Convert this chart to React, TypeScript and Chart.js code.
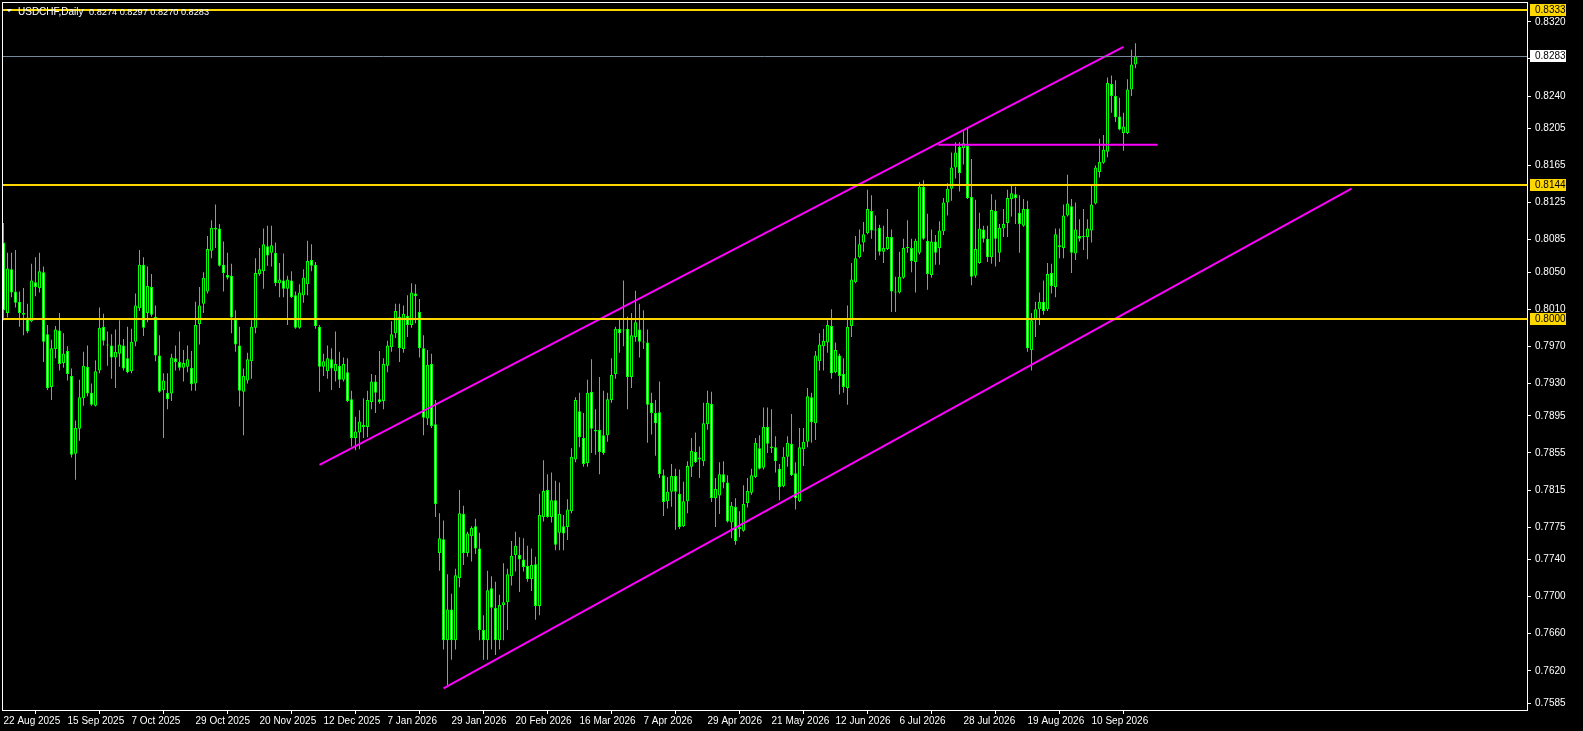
import React, { useEffect, useRef } from 'react';
import { Chart, registerables } from 'chart.js';

Chart.register(...registerables);

const opens = [
  0.8082, 0.8006, 0.8053, 0.8029, 0.8018, 0.8006, 0.8001, 0.7997, 0.8039, 0.8033,
  0.8050, 0.7983, 0.7926, 0.7967, 0.7987, 0.7952, 0.7965, 0.7938, 0.7854, 0.7881,
  0.7914, 0.7948, 0.7920, 0.7906, 0.7944, 0.7991, 0.7972, 0.7971, 0.7958, 0.7962,
  0.7971, 0.7957, 0.7943, 0.7975, 0.8011, 0.8058, 0.8006, 0.8034, 0.8002, 0.7960,
  0.7923, 0.7920, 0.7919, 0.7957, 0.7953, 0.7947, 0.7948, 0.7947, 0.7930, 0.7994,
  0.8016, 0.8029, 0.8073, 0.8098, 0.8097, 0.8058, 0.8047, 0.8046, 0.7999, 0.7971,
  0.7921, 0.7933, 0.7954, 0.7990, 0.8048, 0.8051, 0.8078, 0.8071, 0.8071, 0.8038,
  0.8041, 0.8032, 0.8041, 0.8025, 0.7990, 0.8025, 0.8037, 0.8063, 0.8058, 0.7991,
  0.7948, 0.7943, 0.7956, 0.7943, 0.7949, 0.7934, 0.7942, 0.7913, 0.7871, 0.7877,
  0.7885, 0.7883, 0.7910, 0.7932, 0.7913, 0.7911, 0.7949, 0.7969, 0.7984, 0.8002,
  0.7967, 0.8003, 0.7993, 0.8027, 0.8007, 0.7968, 0.7892, 0.7951, 0.7886, 0.7747,
  0.7762, 0.7653, 0.7686, 0.7653, 0.7720, 0.7789, 0.7747, 0.7765, 0.7776, 0.7752,
  0.7664, 0.7653, 0.7709, 0.7688, 0.7653, 0.7691, 0.7694, 0.7722, 0.7745, 0.7745,
  0.7740, 0.7733, 0.7719, 0.7735, 0.7690, 0.7786, 0.7815, 0.7786, 0.7804, 0.7769,
  0.7776, 0.7775, 0.7792, 0.7848, 0.7900, 0.7871, 0.7844, 0.7921, 0.7880, 0.7880,
  0.7874, 0.7874, 0.7912, 0.7940, 0.7989, 0.7987, 0.7989, 0.7937, 0.7980, 0.7988,
  0.7975, 0.7974, 0.7909, 0.7898, 0.7899, 0.7831, 0.7803, 0.7813, 0.7830, 0.7811,
  0.7776, 0.7803, 0.7840, 0.7856, 0.7848, 0.7846, 0.7886, 0.7908, 0.7806, 0.7809,
  0.7832, 0.7823, 0.7780, 0.7797, 0.7773, 0.7771, 0.7801, 0.7812, 0.7829, 0.7860,
  0.7839, 0.7883, 0.7862, 0.7861, 0.7838, 0.7819, 0.7851, 0.7865, 0.7833, 0.7803,
  0.7859, 0.7867, 0.7915, 0.7887, 0.7954, 0.7970, 0.7974, 0.7992, 0.7942, 0.7960,
  0.7940, 0.7925, 0.7992, 0.8039, 0.8066, 0.8082, 0.8092, 0.8116, 0.8095, 0.8098,
  0.8072, 0.8075, 0.8088, 0.8029, 0.8028, 0.8044, 0.8076, 0.8076, 0.8061, 0.8071,
  0.8142, 0.8084, 0.8047, 0.8083, 0.8076, 0.8094, 0.8125, 0.8140, 0.8163, 0.8185,
  0.8184, 0.8186, 0.8131, 0.8046, 0.8060, 0.8096, 0.8086, 0.8066, 0.8116, 0.8071,
  0.8097, 0.8103, 0.8129, 0.8134, 0.8114, 0.8100, 0.8118, 0.7966, 0.7998, 0.8010,
  0.8018, 0.8010, 0.8049, 0.8034, 0.8079, 0.8076, 0.8111, 0.8121, 0.8070, 0.8089,
  0.8088, 0.8088, 0.8095, 0.8124, 0.8158, 0.8168, 0.8180, 0.8253, 0.8240, 0.8218,
  0.8200, 0.8200, 0.8247, 0.8274,
];

const highs = [
  0.8103, 0.8071, 0.8071, 0.8074, 0.8029, 0.8033, 0.8016, 0.8059, 0.8066, 0.8071,
  0.8056, 0.7993, 0.7977, 0.7992, 0.8006, 0.7984, 0.7970, 0.7946, 0.7890, 0.7934,
  0.7964, 0.7971, 0.7930, 0.7955, 0.8012, 0.8005, 0.7986, 0.7983, 0.7988, 0.7998,
  0.7978, 0.7991, 0.7989, 0.8027, 0.8074, 0.8066, 0.8056, 0.8048, 0.8014, 0.7982,
  0.7941, 0.7941, 0.7962, 0.7971, 0.7986, 0.7966, 0.7971, 0.7965, 0.8018, 0.8034,
  0.8050, 0.8089, 0.8106, 0.8123, 0.8102, 0.8083, 0.8071, 0.8059, 0.8009, 0.7991,
  0.7946, 0.7963, 0.7998, 0.8065, 0.8076, 0.8097, 0.8100, 0.8100, 0.8082, 0.8060,
  0.8070, 0.8046, 0.8051, 0.8029, 0.8037, 0.8053, 0.8084, 0.8080, 0.8061, 0.7993,
  0.7962, 0.7971, 0.7968, 0.7986, 0.7964, 0.7958, 0.7957, 0.7922, 0.7894, 0.7901,
  0.7914, 0.7922, 0.7940, 0.7939, 0.7965, 0.7957, 0.7976, 0.7997, 0.8016, 0.8016,
  0.8014, 0.8025, 0.8038, 0.8037, 0.8021, 0.7982, 0.7966, 0.7962, 0.7912, 0.7790,
  0.7782, 0.7724, 0.7703, 0.7730, 0.7815, 0.7798, 0.7770, 0.7776, 0.7784, 0.7769,
  0.7680, 0.7728, 0.7722, 0.7716, 0.7702, 0.7736, 0.7730, 0.7760, 0.7770, 0.7764,
  0.7763, 0.7755, 0.7752, 0.7743, 0.7811, 0.7847, 0.7832, 0.7834, 0.7825, 0.7823,
  0.7788, 0.7805, 0.7860, 0.7915, 0.7920, 0.7898, 0.7934, 0.7956, 0.7902, 0.7937,
  0.7922, 0.7920, 0.7957, 0.7991, 0.7999, 0.8041, 0.8002, 0.8006, 0.8030, 0.8016,
  0.8009, 0.7988, 0.7920, 0.7912, 0.7932, 0.7837, 0.7829, 0.7843, 0.7838, 0.7837,
  0.7824, 0.7846, 0.7871, 0.7877, 0.7862, 0.7909, 0.7922, 0.7921, 0.7828, 0.7845,
  0.7846, 0.7831, 0.7802, 0.7806, 0.7792, 0.7820, 0.7828, 0.7838, 0.7871, 0.7874,
  0.7904, 0.7904, 0.7902, 0.7873, 0.7843, 0.7861, 0.7873, 0.7897, 0.7845, 0.7882,
  0.7882, 0.7925, 0.7920, 0.7965, 0.7984, 0.7989, 0.7998, 0.8010, 0.7974, 0.7962,
  0.7957, 0.8014, 0.8060, 0.8089, 0.8096, 0.8104, 0.8139, 0.8133, 0.8111, 0.8101,
  0.8100, 0.8118, 0.8096, 0.8045, 0.8072, 0.8086, 0.8106, 0.8086, 0.8086, 0.8147,
  0.8149, 0.8113, 0.8096, 0.8090, 0.8105, 0.8130, 0.8146, 0.8179, 0.8190, 0.8190,
  0.8202, 0.8206, 0.8172, 0.8128, 0.8114, 0.8100, 0.8100, 0.8134, 0.8128, 0.8102,
  0.8118, 0.8139, 0.8145, 0.8142, 0.8133, 0.8129, 0.8127, 0.8006, 0.8018, 0.8028,
  0.8041, 0.8060, 0.8059, 0.8097, 0.8097, 0.8123, 0.8155, 0.8129, 0.8125, 0.8107,
  0.8118, 0.8107, 0.8145, 0.8165, 0.8194, 0.8198, 0.8260, 0.8262, 0.8257, 0.8238,
  0.8222, 0.8258, 0.8290, 0.8297,
];

const lows = [
  0.7998, 0.8001, 0.8023, 0.8012, 0.7991, 0.7982, 0.7984, 0.7996, 0.8024, 0.8028,
  0.7953, 0.7923, 0.7912, 0.7957, 0.7944, 0.7947, 0.7933, 0.7850, 0.7826, 0.7868,
  0.7906, 0.7916, 0.7906, 0.7905, 0.7941, 0.7971, 0.7949, 0.7935, 0.7925, 0.7948,
  0.7944, 0.7941, 0.7941, 0.7970, 0.8008, 0.7981, 0.7996, 0.8002, 0.7954, 0.7920,
  0.7871, 0.7902, 0.7911, 0.7944, 0.7944, 0.7932, 0.7942, 0.7922, 0.7922, 0.7972,
  0.8006, 0.8027, 0.8065, 0.8076, 0.8056, 0.8029, 0.8042, 0.7984, 0.7964, 0.7905,
  0.7874, 0.7930, 0.7935, 0.7984, 0.8046, 0.8032, 0.8057, 0.8056, 0.8035, 0.8023,
  0.8023, 0.7993, 0.8022, 0.7989, 0.7989, 0.8017, 0.8025, 0.8051, 0.7989, 0.7921,
  0.7938, 0.7935, 0.7923, 0.7932, 0.7925, 0.7932, 0.7910, 0.7862, 0.7858, 0.7859,
  0.7871, 0.7872, 0.7902, 0.7898, 0.7908, 0.7902, 0.7942, 0.7964, 0.7979, 0.7953,
  0.7963, 0.7980, 0.7990, 0.7995, 0.7958, 0.7874, 0.7885, 0.7882, 0.7786, 0.7728,
  0.7643, 0.7604, 0.7632, 0.7643, 0.7710, 0.7734, 0.7743, 0.7738, 0.7746, 0.7653,
  0.7632, 0.7632, 0.7643, 0.7637, 0.7643, 0.7653, 0.7664, 0.7712, 0.7727, 0.7705,
  0.7727, 0.7716, 0.7706, 0.7675, 0.7680, 0.7781, 0.7785, 0.7780, 0.7750, 0.7750,
  0.7750, 0.7761, 0.7790, 0.7845, 0.7861, 0.7840, 0.7840, 0.7855, 0.7853, 0.7832,
  0.7853, 0.7867, 0.7909, 0.7935, 0.7963, 0.7970, 0.7902, 0.7925, 0.7975, 0.7958,
  0.7967, 0.7866, 0.7875, 0.7852, 0.7828, 0.7787, 0.7795, 0.7797, 0.7772, 0.7773,
  0.7775, 0.7790, 0.7829, 0.7844, 0.7828, 0.7841, 0.7880, 0.7802, 0.7775, 0.7789,
  0.7817, 0.7780, 0.7763, 0.7756, 0.7764, 0.7770, 0.7796, 0.7810, 0.7828, 0.7837,
  0.7837, 0.7855, 0.7855, 0.7834, 0.7804, 0.7818, 0.7840, 0.7830, 0.7794, 0.7802,
  0.7841, 0.7861, 0.7866, 0.7869, 0.7944, 0.7944, 0.7963, 0.7935, 0.7941, 0.7918,
  0.7920, 0.7907, 0.7980, 0.8038, 0.8065, 0.8072, 0.8091, 0.8086, 0.8063, 0.8068,
  0.8060, 0.8074, 0.8007, 0.8007, 0.8027, 0.8043, 0.8071, 0.8050, 0.8028, 0.8069,
  0.8085, 0.8031, 0.8044, 0.8058, 0.8058, 0.8090, 0.8111, 0.8127, 0.8151, 0.8137,
  0.8166, 0.8129, 0.8036, 0.8044, 0.8059, 0.8082, 0.8061, 0.8059, 0.8056, 0.8061,
  0.8088, 0.8088, 0.8110, 0.8102, 0.8071, 0.8099, 0.7964, 0.7944, 0.7980, 0.7993,
  0.8004, 0.8008, 0.8027, 0.8023, 0.8065, 0.8065, 0.8110, 0.8049, 0.8063, 0.8083,
  0.8074, 0.8064, 0.8082, 0.8123, 0.8152, 0.8167, 0.8174, 0.8222, 0.8212, 0.8203,
  0.8181, 0.8199, 0.8240, 0.8270,
];

const closes = [
  0.8009, 0.8054, 0.8028, 0.8017, 0.8006, 0.8004, 0.7986, 0.8041, 0.8034, 0.8051,
  0.7975, 0.7925, 0.7968, 0.7988, 0.7951, 0.7962, 0.7940, 0.7853, 0.7882, 0.7915,
  0.7949, 0.7919, 0.7907, 0.7943, 0.7990, 0.7976, 0.7971, 0.7958, 0.7964, 0.7972,
  0.7946, 0.7942, 0.7975, 0.8014, 0.8058, 0.7990, 0.8035, 0.8004, 0.7960, 0.7921,
  0.7933, 0.7913, 0.7958, 0.7953, 0.7947, 0.7952, 0.7956, 0.7929, 0.7993, 0.8014,
  0.8044, 0.8075, 0.8098, 0.8096, 0.8057, 0.8049, 0.8044, 0.8001, 0.7972, 0.7922,
  0.7938, 0.7956, 0.7991, 0.8049, 0.8053, 0.8080, 0.8068, 0.8079, 0.8038, 0.8042,
  0.8032, 0.8042, 0.8023, 0.7990, 0.8028, 0.8044, 0.8062, 0.8057, 0.7992, 0.7948,
  0.7954, 0.7957, 0.7946, 0.7951, 0.7934, 0.7951, 0.7911, 0.7871, 0.7878, 0.7889,
  0.7883, 0.7912, 0.7932, 0.7920, 0.7910, 0.7951, 0.7971, 0.7983, 0.8008, 0.7968,
  0.8005, 0.7993, 0.8028, 0.8024, 0.7968, 0.7893, 0.7950, 0.7884, 0.7800, 0.7763,
  0.7653, 0.7686, 0.7653, 0.7723, 0.7790, 0.7747, 0.7768, 0.7774, 0.7752, 0.7664,
  0.7653, 0.7707, 0.7688, 0.7653, 0.7691, 0.7694, 0.7724, 0.7744, 0.7755, 0.7740,
  0.7732, 0.7719, 0.7734, 0.7690, 0.7788, 0.7814, 0.7786, 0.7804, 0.7756, 0.7789,
  0.7768, 0.7794, 0.7851, 0.7912, 0.7872, 0.7843, 0.7920, 0.7881, 0.7878, 0.7856,
  0.7855, 0.7913, 0.7939, 0.7989, 0.7984, 0.7988, 0.7937, 0.7982, 0.7996, 0.7975,
  0.7974, 0.7907, 0.7898, 0.7887, 0.7832, 0.7802, 0.7813, 0.7830, 0.7813, 0.7775,
  0.7803, 0.7841, 0.7857, 0.7845, 0.7850, 0.7887, 0.7909, 0.7806, 0.7816, 0.7832,
  0.7823, 0.7781, 0.7798, 0.7760, 0.7775, 0.7800, 0.7814, 0.7831, 0.7866, 0.7838,
  0.7883, 0.7865, 0.7860, 0.7846, 0.7818, 0.7851, 0.7866, 0.7831, 0.7806, 0.7861,
  0.7867, 0.7916, 0.7888, 0.7960, 0.7972, 0.7976, 0.7993, 0.7941, 0.7966, 0.7938,
  0.7926, 0.7991, 0.8042, 0.8065, 0.8080, 0.8091, 0.8118, 0.8095, 0.8096, 0.8072,
  0.8076, 0.8088, 0.8029, 0.8028, 0.8045, 0.8076, 0.8077, 0.8062, 0.8084, 0.8142,
  0.8086, 0.8048, 0.8083, 0.8071, 0.8095, 0.8125, 0.8140, 0.8163, 0.8179, 0.8157,
  0.8189, 0.8130, 0.8045, 0.8075, 0.8097, 0.8086, 0.8066, 0.8117, 0.8086, 0.8098,
  0.8102, 0.8130, 0.8135, 0.8130, 0.8102, 0.8118, 0.7968, 0.7998, 0.8010, 0.8018,
  0.8008, 0.8048, 0.8035, 0.8091, 0.8077, 0.8111, 0.8124, 0.8071, 0.8096, 0.8086,
  0.8089, 0.8097, 0.8123, 0.8163, 0.8169, 0.8182, 0.8254, 0.8240, 0.8217, 0.8204,
  0.8207, 0.8247, 0.8274, 0.8283,
];

const dateLabels = [
  '22 Aug 2025', '15 Sep 2025', '7 Oct 2025', '29 Oct 2025', '20 Nov 2025', '12 Dec 2025',
  '7 Jan 2026', '29 Jan 2026', '20 Feb 2026', '16 Mar 2026', '7 Apr 2026', '29 Apr 2026',
  '21 May 2026', '12 Jun 2026', '6 Jul 2026', '28 Jul 2026', '19 Aug 2026', '10 Sep 2026',
];
const dateLabelBars = [0, 16, 32, 48, 64, 80, 96, 112, 128, 144, 160, 176, 192, 208, 224, 240, 256, 272];

const priceTicks = [
  0.8320, 0.8280, 0.8240, 0.8205, 0.8165, 0.8125, 0.8085, 0.8050, 0.8010, 0.7970,
  0.7930, 0.7895, 0.7855, 0.7815, 0.7775, 0.7740, 0.7700, 0.7660, 0.7620, 0.7585,
];

const levelLines = [0.8333, 0.8144, 0.8000];
const bidPrice = 0.8283;

const upperChannel = [{ x: 79, y: 0.7842 }, { x: 280, y: 0.8293 }];
const lowerChannel = [{ x: 110, y: 0.7601 }, { x: 337, y: 0.8140 }];
const breakoutLine = [{ x: 233.7, y: 0.81875 }, { x: 288.5, y: 0.81875 }];

const symbolTitle = 'USDCHF,Daily';
const ohlcTitle = '0.8274 0.8297 0.8270 0.8283';

const FONT = "'Liberation Sans', Arial, sans-serif";

const zeroPad = (s: any) => {
  s.paddingTop = 0;
  s.paddingBottom = 0;
  s.paddingLeft = 0;
  s.paddingRight = 0;
};

export default function App() {
  const ref = useRef<HTMLCanvasElement | null>(null);

  useEffect(() => {
    document.body.style.margin = '0';
    document.body.style.background = '#000';
    const canvas = ref.current;
    if (!canvas) return;

    const wickData = opens.map((_, i) => ({ x: i, y: [lows[i], highs[i]] }));
    const bodyData = opens.map((o, i) => ({ x: i, y: [Math.min(o, closes[i]), Math.max(o, closes[i])] }));
    const bodyFill = opens.map((o, i) => (closes[i] < o ? '#ffffff' : '#000000'));

    const overlay = {
      id: 'mtOverlay',
      beforeDraw(chart: any) {
        const { ctx } = chart;
        ctx.save();
        ctx.fillStyle = '#000000';
        ctx.fillRect(0, 0, chart.width, chart.height);
        ctx.restore();
      },
      afterDatasetsDraw(chart: any) {
        const { ctx, chartArea: a, scales } = chart;
        const y = scales.y;
        ctx.save();
        ctx.beginPath();
        ctx.rect(a.left, a.top, a.right - a.left, a.bottom - a.top);
        ctx.clip();
        const by = Math.round(y.getPixelForValue(bidPrice)) + 0.5;
        ctx.strokeStyle = '#778899';
        ctx.lineWidth = 1;
        ctx.beginPath();
        ctx.moveTo(a.left, by);
        ctx.lineTo(a.right, by);
        ctx.stroke();
        ctx.strokeStyle = '#FFD700';
        ctx.lineWidth = 2;
        for (const lv of levelLines) {
          const py = Math.round(y.getPixelForValue(lv));
          ctx.beginPath();
          ctx.moveTo(a.left, py);
          ctx.lineTo(a.right, py);
          ctx.stroke();
        }
        ctx.restore();
      },
      afterDraw(chart: any) {
        const { ctx, chartArea: a, scales } = chart;
        const y = scales.y;
        ctx.save();
        ctx.strokeStyle = '#ffffff';
        ctx.lineWidth = 1;
        ctx.strokeRect(a.left + 0.5, a.top + 0.5, a.right - a.left, a.bottom - a.top);
        ctx.font = `10px ${FONT}`;
        ctx.textBaseline = 'middle';
        ctx.textAlign = 'left';
        const box = (v: number, bg: string) => {
          const py = Math.round(y.getPixelForValue(v));
          ctx.fillStyle = bg;
          ctx.fillRect(a.right + 3, py - 6, 36, 12);
          ctx.fillStyle = '#000000';
          ctx.fillText(v.toFixed(4), a.right + 8, py + 0.5);
        };
        for (const lv of levelLines) box(lv, '#FFD700');
        box(bidPrice, '#ffffff');
        ctx.fillStyle = '#ffffff';
        ctx.beginPath();
        ctx.moveTo(6, 9);
        ctx.lineTo(12, 9);
        ctx.lineTo(9, 12);
        ctx.closePath();
        ctx.fill();
        ctx.textBaseline = 'alphabetic';
        ctx.font = `10px ${FONT}`;
        ctx.fillText(symbolTitle, 18, 15);
        ctx.font = `9.2px ${FONT}`;
        ctx.fillText(ohlcTitle, 89, 15);
        ctx.restore();
      },
    };

    const lineDs = (data: any) => ({
      type: 'line',
      data,
      borderColor: '#ff00ff',
      borderWidth: 2,
      pointRadius: 0,
      fill: false,
      order: 0,
    });

    const chart = new Chart(canvas, {
      type: 'bar',
      data: {
        datasets: [
          lineDs(upperChannel) as any,
          lineDs(lowerChannel) as any,
          lineDs(breakoutLine) as any,
          {
            type: 'bar',
            data: bodyData,
            backgroundColor: bodyFill,
            borderColor: '#00ff00',
            borderWidth: 1,
            borderSkipped: false,
            barThickness: 3,
            minBarLength: 1,
            grouped: false,
            inflateAmount: 0,
            order: 1,
          } as any,
          {
            type: 'bar',
            data: wickData,
            backgroundColor: '#00ff00',
            borderWidth: 0,
            barThickness: 1,
            minBarLength: 1,
            grouped: false,
            inflateAmount: 0,
            order: 2,
          } as any,
        ],
      },
      options: {
        responsive: false,
        animation: false,
        devicePixelRatio: 1,
        events: [],
        layout: { padding: { left: 2, top: 2, right: 0, bottom: 0 } },
        plugins: { legend: { display: false }, tooltip: { enabled: false }, title: { display: false } },
        scales: {
          x: {
            type: 'linear',
            min: -0.375,
            max: 380.875,
            offset: false,
            afterFit: (s: any) => { s.height = 21; zeroPad(s); },
            afterBuildTicks: (s: any) => { s.ticks = dateLabelBars.map((v) => ({ value: v })); },
            ticks: {
              autoSkip: false,
              maxRotation: 0,
              align: 'start',
              color: '#ffffff',
              padding: 1,
              font: { family: FONT, size: 10 },
              callback: (v: any) => dateLabels[dateLabelBars.indexOf(Number(v))] ?? '',
            },
            grid: { display: true, drawOnChartArea: false, drawTicks: true, tickLength: 4, color: '#ffffff' },
            border: { display: false },
          },
          y: {
            type: 'linear',
            position: 'right',
            min: 0.75777,
            max: 0.83414,
            afterFit: (s: any) => { s.width = 56; zeroPad(s); },
            afterBuildTicks: (s: any) => { s.ticks = priceTicks.map((v) => ({ value: v })); },
            ticks: {
              autoSkip: false,
              color: '#ffffff',
              padding: 4,
              font: { family: FONT, size: 10 },
              callback: (v: any) => Number(v).toFixed(4),
            },
            grid: { display: true, drawOnChartArea: false, drawTicks: true, tickLength: 4, color: '#ffffff' },
            border: { display: false },
          },
        },
      } as any,
      plugins: [overlay],
    });

    return () => chart.destroy();
  }, []);

  return (
    <div style={{ width: 1583, height: 731, background: '#000' }}>
      <canvas ref={ref} width={1583} height={731} style={{ display: 'block' }} />
    </div>
  );
}
